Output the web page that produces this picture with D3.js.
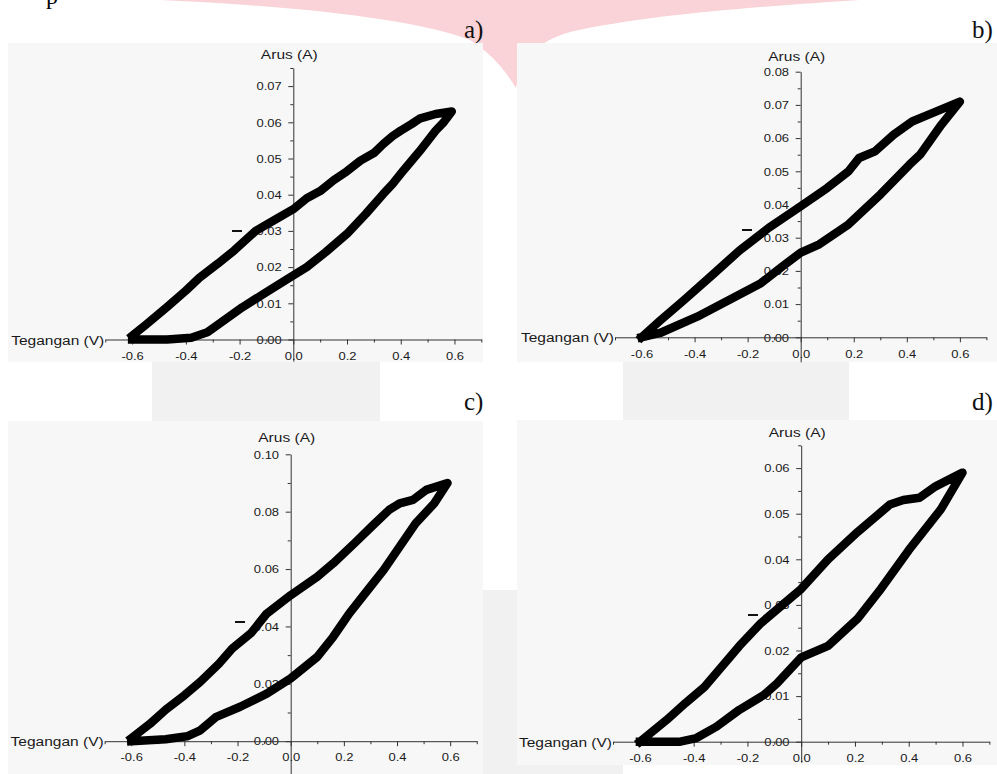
<!DOCTYPE html>
<html>
<head>
<meta charset="utf-8">
<script src="https://cdn.jsdelivr.net/npm/d3@7"></script>
<style>
  body { margin: 0; background: #fff; }
  svg { display: block; }
  .tick text { font-family: "Liberation Sans", Arial, sans-serif; fill: #1a1a1a; }
</style>
</head>
<body>
<div id="chart"></div>
<script>
// tick labels shared by all four panels
const voltTicks = [-0.6, -0.4, -0.2, 0.0, 0.2, 0.4, 0.6];
const voltMinor = [-0.7, -0.5, -0.3, -0.1, 0.1, 0.3, 0.5, 0.7];

// current ticks for each panel
const ampTicksA = [0.00, 0.01, 0.02, 0.03, 0.04, 0.05, 0.06, 0.07];
const ampTicksB = [0.00, 0.01, 0.02, 0.03, 0.04, 0.05, 0.06, 0.07, 0.08];
const ampTicksC = [0.00, 0.02, 0.04, 0.06, 0.08, 0.10];
const ampTicksD = [0.00, 0.01, 0.02, 0.03, 0.04, 0.05, 0.06];

// I-V loops: [V, I]
const loopUpA = [[-0.60, 0.001], [-0.55, 0.004], [-0.47, 0.009], [-0.40, 0.0135], [-0.35, 0.017], [-0.28, 0.021],
  [-0.22, 0.0246], [-0.14, 0.030], [-0.07, 0.033], [0.00, 0.036], [0.05, 0.039], [0.10, 0.041], [0.15, 0.044],
  [0.20, 0.0465], [0.25, 0.0494], [0.30, 0.0515], [0.335, 0.054], [0.37, 0.0562], [0.40, 0.0577], [0.44, 0.0595],
  [0.47, 0.061], [0.53, 0.0623], [0.59, 0.063]];
const loopDownA = [[0.59, 0.063], [0.56, 0.060], [0.53, 0.0577], [0.47, 0.052], [0.41, 0.0467], [0.37, 0.043],
  [0.335, 0.0402], [0.27, 0.0347], [0.20, 0.0292], [0.12, 0.0241], [0.05, 0.020], [0.00, 0.0177], [-0.10, 0.0131],
  [-0.19, 0.0089], [-0.26, 0.0052], [-0.32, 0.002], [-0.38, 0.0005], [-0.47, 0.0], [-0.60, 0.0]];

const loopUpB = [[-0.60, 0.0], [-0.53, 0.005], [-0.44, 0.0112], [-0.33, 0.019], [-0.23, 0.0262], [-0.12, 0.033],
  [0.00, 0.0395], [0.10, 0.045], [0.18, 0.050], [0.22, 0.054], [0.28, 0.056], [0.35, 0.061], [0.42, 0.065],
  [0.48, 0.067], [0.60, 0.071]];
const loopDownB = [[0.60, 0.071], [0.53, 0.064], [0.45, 0.055], [0.41, 0.052], [0.30, 0.043], [0.18, 0.034],
  [0.07, 0.028], [0.00, 0.0255], [-0.07, 0.0213], [-0.15, 0.0163], [-0.27, 0.0112], [-0.39, 0.0062],
  [-0.53, 0.0013], [-0.60, 0.0]];

const loopUpC = [[-0.60, 0.001], [-0.53, 0.006], [-0.47, 0.011], [-0.40, 0.016], [-0.34, 0.0207], [-0.27, 0.027],
  [-0.22, 0.0323], [-0.15, 0.0376], [-0.09, 0.0445], [0.00, 0.0509], [0.10, 0.0573], [0.16, 0.062], [0.24, 0.069],
  [0.31, 0.0753], [0.37, 0.0806], [0.41, 0.0829], [0.46, 0.0841], [0.51, 0.0876], [0.59, 0.090]];
const loopDownC = [[0.59, 0.0899], [0.54, 0.0829], [0.47, 0.0759], [0.41, 0.0678], [0.35, 0.0597], [0.29, 0.0527],
  [0.22, 0.0445], [0.16, 0.0364], [0.10, 0.0294], [0.00, 0.0219], [-0.09, 0.0166], [-0.19, 0.012], [-0.28, 0.0085],
  [-0.34, 0.0038], [-0.39, 0.0017], [-0.47, 0.0007], [-0.60, 0.0]];

const loopUpD = [[-0.60, 0.0], [-0.50, 0.0048], [-0.43, 0.0085], [-0.36, 0.012], [-0.23, 0.021], [-0.15, 0.026],
  [0.00, 0.0335], [0.10, 0.040], [0.21, 0.046], [0.33, 0.052], [0.38, 0.053], [0.44, 0.0535], [0.50, 0.056],
  [0.60, 0.059]];
const loopDownD = [[0.60, 0.059], [0.52, 0.051], [0.40, 0.042], [0.29, 0.033], [0.21, 0.027], [0.10, 0.021],
  [0.00, 0.0185], [-0.09, 0.0128], [-0.14, 0.0102], [-0.23, 0.007], [-0.315, 0.0033], [-0.39, 0.0008],
  [-0.45, 0.0], [-0.60, 0.0]];

const W = 997, H = 774;
const svg = d3.select('#chart').append('svg').attr('width', W).attr('height', H);

// pink watermark behind everything
svg.append('path')
  .attr('d', 'M160,0 L860,0 C770,6 650,14 570,32 C535,42 522,60 516,88 C505,70 492,54 470,40 C420,20 300,6 160,0 Z')
  .attr('fill', '#f9d3d7');

// grey blocks from the page
svg.append('rect').attr('x', 152).attr('y', 362).attr('width', 228).attr('height', 60).attr('fill', '#f1f1f1');
svg.append('rect').attr('x', 623).attr('y', 362).attr('width', 226).attr('height', 60).attr('fill', '#f1f1f1');
svg.append('rect').attr('x', 483).attr('y', 590).attr('width', 140).attr('height', 184).attr('fill', '#f1f1f1');

// fragment of the text line above the figure
svg.append('text').attr('x', 46).attr('y', 4).text('p')
  .style('font-family', '"Liberation Serif", serif').style('font-size', '24px');

const panels = [
  { tag: 'a)', box: [8, 43, 475, 319], tagPos: [464, 38], x0: 293.3, xr: 268.6, y0: 339.5, yr: 3620,
    yLow: -0.006, yTop: 0.075, ticks: ampTicksA, minorStep: 0.005, titleGap: 9,
    up: loopUpA, down: loopDownA, dash: [232, 231] },
  { tag: 'b)', box: [517, 43, 480, 319], tagPos: [972, 38], x0: 800.7, xr: 265.3, y0: 337.3, yr: 3320,
    yLow: -0.0074, yTop: 0.08, ticks: ampTicksB, minorStep: 0.005, titleGap: 11,
    up: loopUpB, down: loopDownB, dash: [742, 230] },
  { tag: 'c)', box: [8, 421, 475, 353], tagPos: [464, 410], x0: 290.7, xr: 265.8, y0: 741.2, yr: 2869,
    yLow: -0.012, yTop: 0.10, ticks: ampTicksC, minorStep: 0.01, titleGap: 12,
    up: loopUpC, down: loopDownC, dash: [235, 622] },
  { tag: 'd)', box: [517, 420, 480, 345], tagPos: [972, 410], x0: 801.2, xr: 268.8, y0: 741.7, yr: 4560,
    yLow: -0.0045, yTop: 0.065, ticks: ampTicksD, minorStep: 0.005, titleGap: 8,
    up: loopUpD, down: loopDownD, dash: [748, 615] }
];

panels.forEach(p => drawPanel(p));

// the source figure is slightly stretched sideways
const stretch = 'scale(1.12,1)';

function drawPanel(p) {
  const g = svg.append('g');
  g.append('rect')
    .attr('x', p.box[0]).attr('y', p.box[1]).attr('width', p.box[2]).attr('height', p.box[3])
    .attr('fill', '#f7f7f7');

  g.append('text').attr('x', p.tagPos[0]).attr('y', p.tagPos[1]).text(p.tag)
    .style('font-family', '"Liberation Serif", serif').style('font-size', '25px').attr('fill', '#111');

  const x = d3.scaleLinear().domain([-0.7, 0.7]).range([p.x0 - 0.7 * p.xr, p.x0 + 0.7 * p.xr]);
  const y = d3.scaleLinear().domain([p.yLow, p.yTop]).range([p.y0 - p.yLow * p.yr, p.y0 - p.yTop * p.yr]);

  // y axis (minor first, then major with labels)
  const minor = d3.range(0, p.yTop + 1e-9, p.minorStep).filter(v => !p.ticks.some(t => Math.abs(t - v) < 1e-9));
  g.append('g').attr('transform', `translate(${x(0)},0)`)
    .call(d3.axisLeft(y).tickValues(minor).tickSize(3).tickFormat(''))
    .call(s => s.select('.domain').remove())
    .selectAll('line').attr('stroke', '#333');
  const yAxis = g.append('g').attr('transform', `translate(${x(0)},0)`)
    .call(d3.axisLeft(y).tickValues(p.ticks).tickSize(5).tickSizeOuter(0).tickPadding(5.4).tickFormat(d3.format('.2f')));
  yAxis.selectAll('text').style('font-size', '11.6px').attr('transform', 'scale(1.12,1)');
  yAxis.select('.domain').attr('stroke', '#333');
  yAxis.selectAll('line').attr('stroke', '#333');

  // x axis
  g.append('g').attr('transform', `translate(0,${y(0)})`)
    .call(d3.axisBottom(x).tickValues(voltMinor).tickSize(3).tickFormat(''))
    .call(s => s.select('.domain').remove())
    .selectAll('line').attr('stroke', '#333');
  const xAxis = g.append('g').attr('transform', `translate(0,${y(0)})`)
    .call(d3.axisBottom(x).tickValues(voltTicks).tickSize(5).tickSizeOuter(0).tickPadding(7)
      .tickFormat(d => d3.format('.1f')(d).replace('−', '-')));
  xAxis.selectAll('text').style('font-size', '11.6px').attr('transform', 'scale(1.12,1)');
  xAxis.select('.domain').attr('stroke', '#333');
  xAxis.selectAll('line').attr('stroke', '#333');

  // axis titles
  g.append('text').attr('transform', `translate(${x(0) - 4},${y(p.yTop) - p.titleGap}) scale(1.15,1)`)
    .attr('text-anchor', 'middle')
    .style('font-family', '"Liberation Sans", Arial, sans-serif').style('font-size', '13.5px').attr('fill', '#1a1a1a')
    .text('Arus (A)');
  g.append('text').attr('transform', `translate(${x(-0.7) - 1},${y(0) + 5}) scale(1.15,1)`)
    .attr('text-anchor', 'end')
    .style('font-family', '"Liberation Sans", Arial, sans-serif').style('font-size', '13.5px').attr('fill', '#1a1a1a')
    .text('Tegangan (V)');

  // the loop
  const line = d3.line().x(d => x(d[0])).y(d => y(d[1]));
  g.append('path').datum(p.up.concat(p.down.slice(1)))
    .attr('d', line)
    .attr('fill', 'none').attr('stroke', '#000').attr('stroke-width', 8.5)
    .attr('stroke-linejoin', 'round').attr('stroke-linecap', 'square');

  // stray dash left of the axis
  g.append('line').attr('x1', p.dash[0]).attr('x2', p.dash[0] + 10).attr('y1', p.dash[1]).attr('y2', p.dash[1])
    .attr('stroke', '#111').attr('stroke-width', 2);
}
</script>
</body>
</html>
